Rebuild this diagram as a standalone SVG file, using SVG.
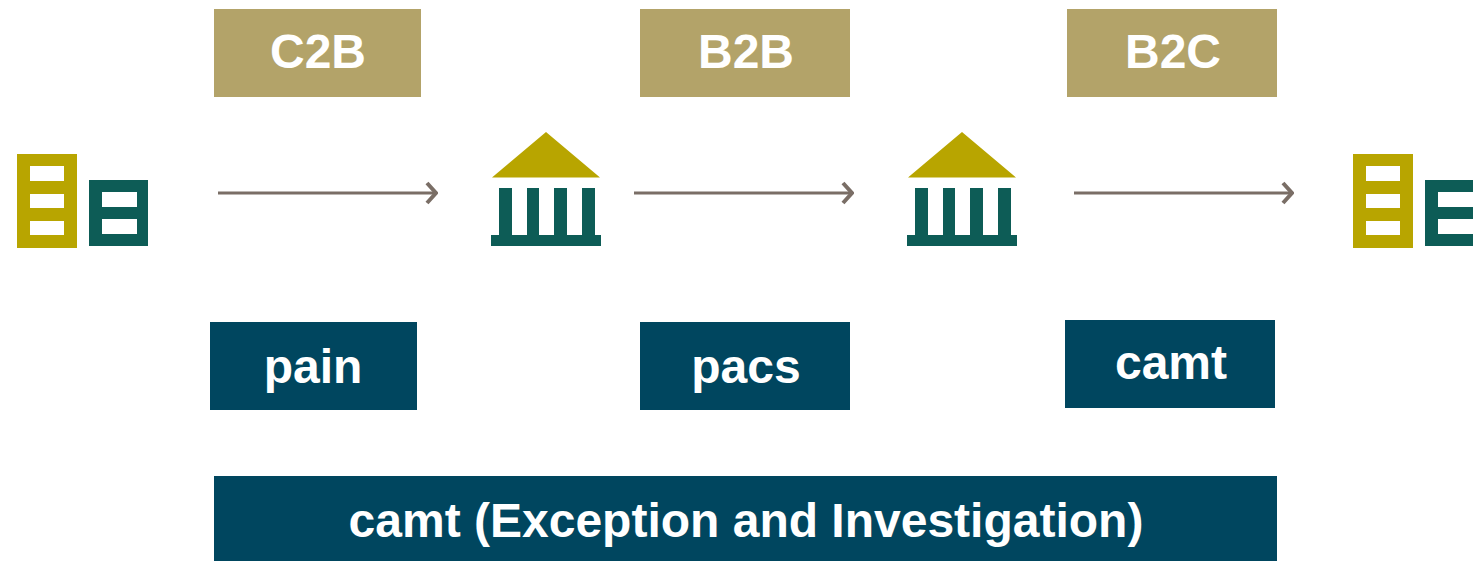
<svg xmlns="http://www.w3.org/2000/svg" width="1473" height="561" viewBox="0 0 1473 561">
<style>
.gold{fill:#b3a369}.navy{fill:#00465f}.ic1{fill:#b8a500}.ic2{fill:#0a5c56}.win{fill:#fff}
.lb{font-family:"Liberation Sans",Arial,sans-serif;font-weight:700;font-size:48px;fill:#fff;text-anchor:middle}
.ar{stroke:#7a6e66;stroke-width:3;fill:none;marker-end:url(#ah)}
</style>
<defs>
<marker id="ah" markerUnits="userSpaceOnUse" markerWidth="14" markerHeight="24" refX="12" refY="12" orient="auto" viewBox="0 0 14 24"><path d="M3 2L12 12L3 22" fill="none" stroke="#7a6e66" stroke-width="4"/></marker>
<filter id="soft" x="-5%" y="-5%" width="110%" height="110%"><feGaussianBlur stdDeviation="0.7"/></filter>
<g id="co" filter="url(#soft)">
<rect class="ic1" x="17" y="154" width="60" height="94"/>
<rect class="win" x="30" y="166" width="34" height="15"/><rect class="win" x="30" y="194" width="34" height="14"/><rect class="win" x="30" y="221" width="34" height="14"/>
<rect class="ic2" x="89" y="180" width="59" height="66"/>
<rect class="win" x="102" y="192" width="35" height="15"/><rect class="win" x="102" y="219" width="35" height="15"/>
</g>
<g id="bk" filter="url(#soft)">
<path class="ic1" d="M546 132L600 177.500H492Z"/>
<rect class="ic2" x="499" y="188" width="13" height="50"/><rect class="ic2" x="527" y="188" width="12" height="50"/><rect class="ic2" x="554" y="188" width="13" height="50"/><rect class="ic2" x="582" y="188" width="13" height="50"/>
<rect class="ic2" x="491" y="235" width="110" height="11"/>
</g>
</defs>
<g id="connectors">
<path class="ar" d="M218 193H436"/>
<path class="ar" d="M634 193H852"/>
<path class="ar" d="M1074 193H1292"/>
</g>
<g id="company-left"><use href="#co"/></g>
<g id="bank-1"><use href="#bk"/></g>
<g id="bank-2"><use href="#bk" x="416"/></g>
<g id="company-right"><use href="#co" x="1336"/></g>
<g id="c2b"><rect class="gold" x="214" y="9" width="207" height="88"/><text class="lb" x="318" y="68">C2B</text></g>
<g id="b2b"><rect class="gold" x="640" y="9" width="210" height="88"/><text class="lb" x="746" y="68">B2B</text></g>
<g id="b2c"><rect class="gold" x="1067" y="9" width="210" height="88"/><text class="lb" x="1173" y="68">B2C</text></g>
<g id="pain"><rect class="navy" x="210" y="322" width="207" height="88"/><text class="lb" x="313" y="383">pain</text></g>
<g id="pacs"><rect class="navy" x="640" y="322" width="210" height="88"/><text class="lb" x="746" y="383">pacs</text></g>
<g id="camt"><rect class="navy" x="1065" y="320" width="210" height="88"/><text class="lb" x="1171" y="379">camt</text></g>
<g id="camt-ei"><rect class="navy" x="214" y="476" width="1063" height="85"/><text class="lb" x="746" y="537">camt (Exception and Investigation)</text></g>
</svg>
